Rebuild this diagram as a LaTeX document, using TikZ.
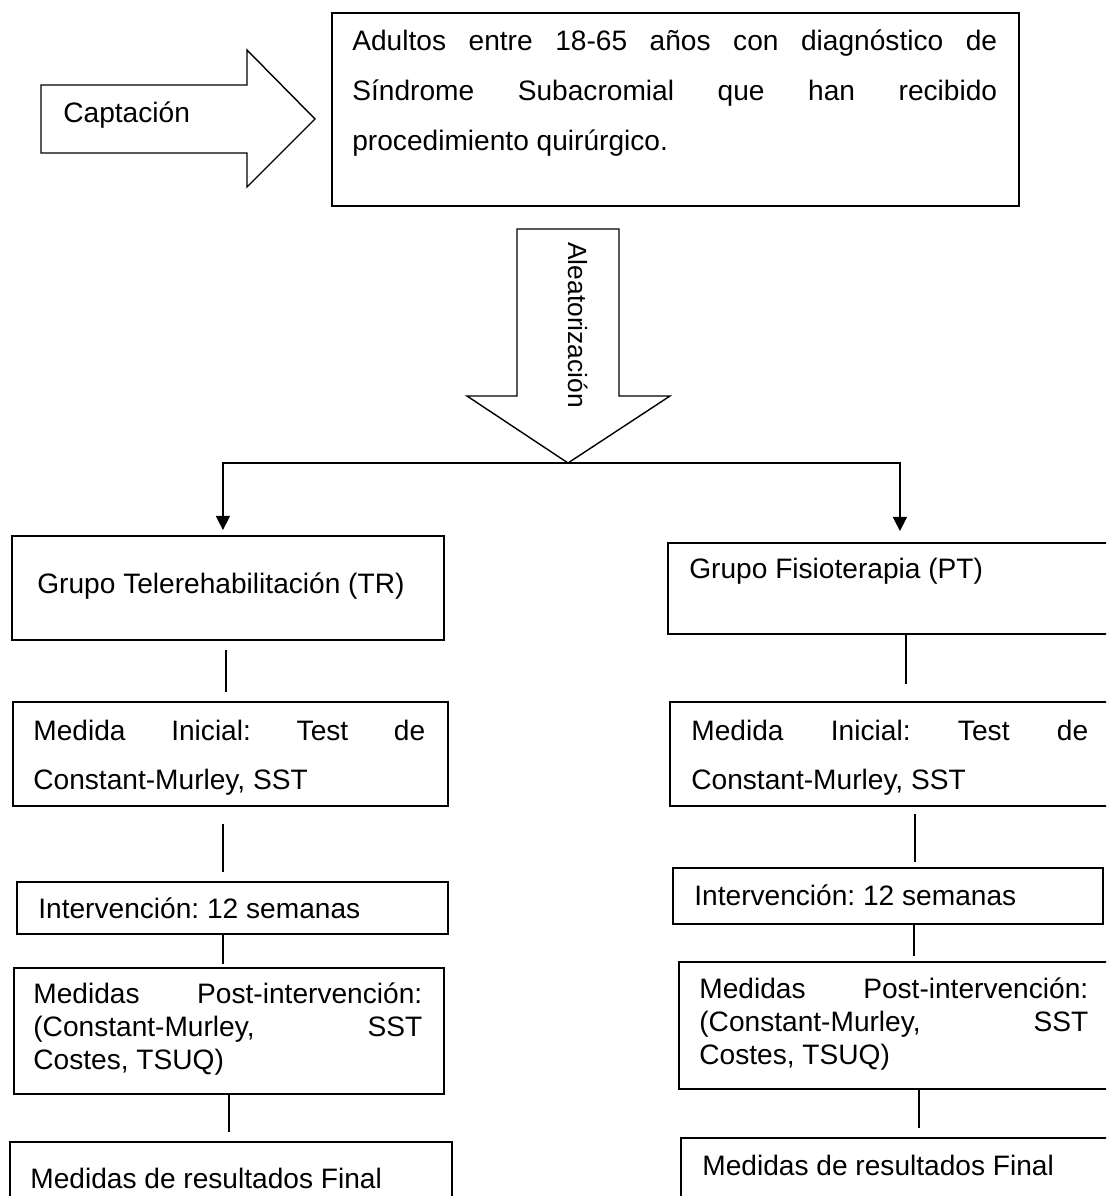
\documentclass[tikz,border=0pt]{standalone}
\usepackage{fontspec}
\setmainfont{Liberation Sans}
\usepackage{tikz}
\usetikzlibrary{arrows.meta}
\frenchspacing

\begin{document}
\begin{tikzpicture}[
    x=0.02cm, y=-0.02cm,
    every node/.style={font=\fontsize{16}{28.2}\selectfont},
    box/.style={draw, line width=1.1pt, rectangle, anchor=north west, inner sep=0pt},
    txt/.style={anchor=base west, inner sep=0pt},
    para/.style={anchor=base west, inner sep=0pt, align=justify},
    single/.style={font=\fontsize{16}{18.9}\selectfont},
    link/.style={line width=0.75pt},
    branch/.style={line width=0.75pt, -{Triangle[width=8pt, length=8pt]}},
    blockarrow/.style={draw, line width=0.8pt, line join=miter}
]
    \useasboundingbox (0,0) rectangle (1106,1196);
    \clip (0,0) rectangle (1106,1196);

    % Captacion
    \draw[blockarrow] (41,85) -- (247,85) -- (247,50) -- (315,119) -- (247,187) -- (247,153) -- (41,153) -- cycle;
    \node[txt] (capt) at (63,123) {Captación};

    \node[box, minimum width=13.74cm, minimum height=3.86cm] (pop) at (331,12) {};
    \node[para, text width=12.9cm] (poptxt) at (352,51) {Adultos entre 18-65 años con diagnóstico de\linebreak Síndrome Subacromial que han recibido\linebreak procedimiento quirúrgico.};

    % Aleatorizacion
    \draw[blockarrow] (517,229) -- (619,229) -- (619,396) -- (670,396) -- (568,463) -- (467,396) -- (517,396) -- cycle;
    \node[txt, rotate=-90, font=\fontsize{15}{18}\selectfont] (rand) at (568,242) {Aleatorización};
    \coordinate (split) at (568,463);

    % Groups
    \node[box, minimum width=8.64cm, minimum height=2.08cm] (tr) at (11,535) {};
    \node[txt] (trtxt) at (37,593) {Grupo Telerehabilitación (TR)};
    \node[box, minimum width=8.96cm, minimum height=1.82cm] (pt) at (667,542) {};
    \node[txt] (pttxt) at (689,578) {Grupo Fisioterapia (PT)};

    \draw[branch, shorten >=0.1cm] (split) -| ([xshift=-0.1cm]tr.north);
    \draw[branch, shorten >=0.22cm] (split) -| ([xshift=0.16cm]pt.north);

    % Left column
    \node[box, minimum width=8.70cm, minimum height=2.08cm] (mil) at (12,701) {};
    \node[para, text width=7.84cm] (miltxt) at (33,740) {Medida Inicial: Test de\linebreak Constant-Murley, SST};
    \node[box, minimum width=8.62cm, minimum height=1.04cm] (inl) at (16,881) {};
    \node[txt] (inltxt) at (38,918) {Intervención: 12 semanas};
    \node[box, minimum width=8.60cm, minimum height=2.52cm] (pol) at (13,967) {};
    \node[para, single, text width=7.78cm] (poltxt) at (33,1003) {Medidas Post-intervención:\linebreak (Constant-Murley, SST\linebreak Costes, TSUQ)};
    \node[box, minimum width=8.84cm, minimum height=1.8cm] (fil) at (9,1141) {};
    \node[txt] (filtxt) at (30,1188) {Medidas de resultados Final};

    \draw[link, shorten <=0.18cm, shorten >=0.18cm] (tr.south -| 226,0) -- (mil.north -| 226,0);
    \draw[link, shorten <=0.34cm, shorten >=0.18cm] (mil.south -| 223,0) -- (inl.north -| 223,0);
    \draw[link, shorten >=0.06cm] (inl.south -| 223,0) -- (pol.north -| 223,0);
    \draw[link, shorten >=0.18cm] (pol.south -| 229,0) -- (fil.north -| 229,0);

    % Right column
    \node[box, minimum width=8.92cm, minimum height=2.08cm] (mir) at (669,701) {};
    \node[para, text width=7.94cm] (mirtxt) at (691,740) {Medida Inicial: Test de\linebreak Constant-Murley, SST};
    \node[box, minimum width=8.60cm, minimum height=1.12cm] (inr) at (672,867) {};
    \node[txt] (inrtxt) at (694,905) {Intervención: 12 semanas};
    \node[box, minimum width=8.74cm, minimum height=2.54cm] (por) at (678,961) {};
    \node[para, single, text width=7.78cm] (portxt) at (699,998) {Medidas Post-intervención:\linebreak (Constant-Murley, SST\linebreak Costes, TSUQ)};
    \node[box, minimum width=8.70cm, minimum height=1.8cm] (fir) at (680,1137) {};
    \node[txt] (firtxt) at (702,1175) {Medidas de resultados Final};

    \draw[link, shorten >=0.34cm] (pt.south -| 906,0) -- (mir.north -| 906,0);
    \draw[link, shorten <=0.14cm, shorten >=0.1cm] (mir.south -| 915,0) -- (inr.north -| 915,0);
    \draw[link, shorten >=0.1cm] (inr.south -| 914,0) -- (por.north -| 914,0);
    \draw[link, shorten >=0.18cm] (por.south -| 919,0) -- (fir.north -| 919,0);

\end{tikzpicture}
\end{document}
